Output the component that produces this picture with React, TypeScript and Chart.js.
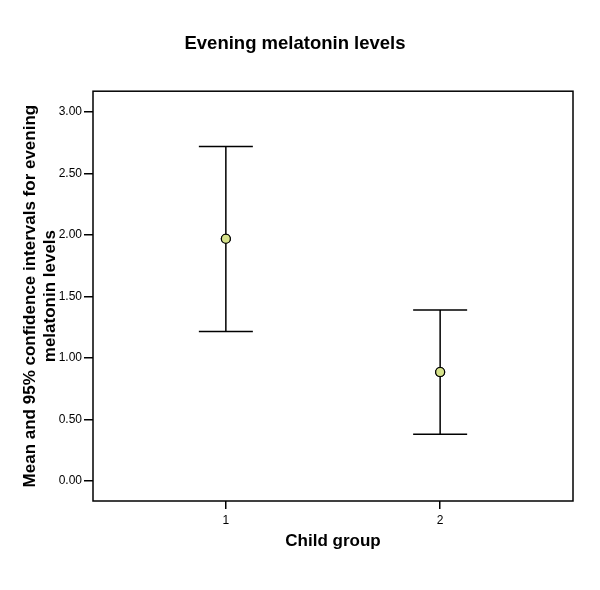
import React, { useEffect, useRef } from "react";
import { Chart, registerables } from "chart.js";

Chart.register(...registerables);

const groups = [1, 2];
const groupLabels = ["1", "2"];
const means = [1.97, 0.886];
const lowerCI = [1.215, 0.38];
const upperCI = [2.72, 1.39];
const yTicks = [0, 0.5, 1, 1.5, 2, 2.5, 3];

const FONT = "'Liberation Sans', Arial, Helvetica, sans-serif";

const errorBarPlugin = {
  id: "errorBars",
  afterDatasetsDraw(chart: any) {
    const { ctx, scales } = chart;
    const xs = scales.x;
    const ys = scales.y;
    const capHalf = 0.126;
    ctx.save();
    ctx.strokeStyle = "#000";
    ctx.lineWidth = 1.5;
    groups.forEach((g, i) => {
      const x = xs.getPixelForValue(g);
      const x0 = xs.getPixelForValue(g - capHalf);
      const x1 = xs.getPixelForValue(g + capHalf);
      const yl = ys.getPixelForValue(lowerCI[i]);
      const yu = ys.getPixelForValue(upperCI[i]);
      ctx.beginPath();
      ctx.moveTo(x, yl);
      ctx.lineTo(x, yu);
      ctx.moveTo(x0, yl);
      ctx.lineTo(x1, yl);
      ctx.moveTo(x0, yu);
      ctx.lineTo(x1, yu);
      ctx.stroke();
    });
    const meta = chart.getDatasetMeta(0);
    meta.data.forEach((el: any) => el.draw(ctx, chart.chartArea));
    ctx.restore();
  },
};

const boxPlugin = {
  id: "boxFrame",
  afterDraw(chart: any) {
    const { ctx, chartArea } = chart;
    ctx.save();
    ctx.strokeStyle = "#000";
    ctx.lineWidth = 1.5;
    ctx.strokeRect(chartArea.left, chartArea.top, chartArea.right - chartArea.left, chartArea.bottom - chartArea.top);
    ctx.restore();
  },
};

export default function App() {
  const ref = useRef<HTMLCanvasElement | null>(null);
  useEffect(() => {
    if (!ref.current) return;
    const chart = new Chart(ref.current, {
      type: "scatter",
      data: {
        datasets: [
          {
            data: groups.map((g, i) => ({ x: g, y: means[i] })),
            pointRadius: 4.5,
            pointBackgroundColor: "#d6e28a",
            pointBorderColor: "#000",
            pointBorderWidth: 1.2,
          },
        ],
      },
      options: {
        animation: false,
        responsive: false,
        maintainAspectRatio: false,
        layout: { padding: { left: 0, right: 10, top: 0, bottom: 0 } },
        plugins: {
          legend: { display: false },
          tooltip: { enabled: false },
          title: {
            display: true,
            text: "Evening melatonin levels",
            color: "#000",
            font: { family: FONT, size: 18.5, weight: "bold" },
            padding: { top: 33, bottom: 36 },
          },
        },
        scales: {
          x: {
            type: "linear",
            min: 0.38,
            max: 2.62,
            afterFit: (s: any) => {
              s.height = 89;
            },
            afterBuildTicks: (s: any) => {
              s.ticks = groups.map((v) => ({ value: v }));
            },
            ticks: {
              color: "#000",
              font: { family: FONT, size: 12 },
              padding: 4,
              callback: (v: any) => {
                const idx = groups.indexOf(Number(v));
                return idx >= 0 ? groupLabels[idx] : "";
              },
            },
            grid: {
              display: true,
              drawOnChartArea: false,
              drawTicks: true,
              tickLength: 8,
              color: "#000",
              lineWidth: 1.5,
            },
            border: { display: false },
            title: {
              display: true,
              text: "Child group",
              color: "#000",
              font: { family: FONT, size: 17, weight: "bold" },
              padding: { top: 0, bottom: 38 },
            },
          },
          y: {
            type: "linear",
            min: -0.163,
            max: 3.17,
            afterFit: (s: any) => {
              s.width = 93;
            },
            afterBuildTicks: (s: any) => {
              s.ticks = yTicks.map((v) => ({ value: v }));
            },
            ticks: {
              color: "#000",
              font: { family: FONT, size: 12 },
              padding: 2,
              callback: (v: any) => Number(v).toFixed(2),
            },
            grid: {
              display: true,
              drawOnChartArea: false,
              drawTicks: true,
              tickLength: 9,
              color: "#000",
              lineWidth: 1.5,
            },
            border: { display: false },
            title: {
              display: true,
              text: ["Mean and 95% confidence intervals for evening", "melatonin levels"],
              color: "#000",
              font: { family: FONT, size: 17, weight: "bold" },
              padding: { top: 20, bottom: 0 },
            },
          },
          yRight: {
            type: "linear",
            position: "right",
            display: true,
            min: 0,
            max: 1,
            afterFit: (s: any) => {
              s.width = 17;
            },
            ticks: { display: false },
            grid: { display: false, drawTicks: false },
            border: { display: false },
          },
        },
      },
      plugins: [errorBarPlugin, boxPlugin],
    });
    return () => chart.destroy();
  }, []);
  return (
    <div style={{ position: "fixed", left: 0, top: 0, width: 600, height: 590, background: "#fff" }}>
      <canvas ref={ref} width={600} height={590} style={{ width: 600, height: 590 }} />
    </div>
  );
}
